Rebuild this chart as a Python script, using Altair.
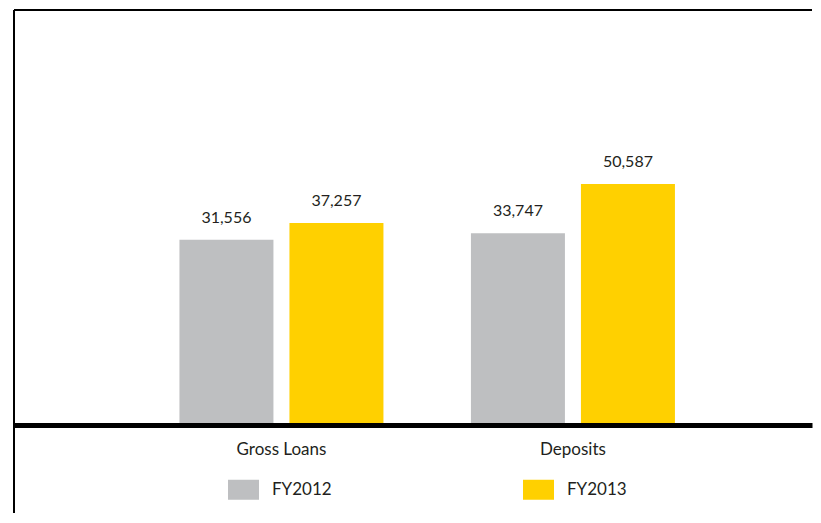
import altair as alt
import pandas as pd

categories = ["Gross Loans", "Deposits"]
series = ["FY2012", "FY2013"]
fy2012 = [31556, 33747]
fy2013 = [37257, 50587]
colors = ["#bebfc1", "#ffd000"]

rows = []
for i, c in enumerate(categories):
    rows.append({"category": c, "series": series[0], "value": fy2012[i]})
    rows.append({"category": c, "series": series[1], "value": fy2013[i]})
df = pd.DataFrame(rows)

W, H = 798, 413
Y0, Y1 = -31233, 110205
TXT = "#231f20"
FONT = "Lato"

x_enc = alt.X(
    "category:N",
    sort=categories,
    scale=alt.Scale(paddingInner=0, paddingOuter=0.3688, align=0.566),
    axis=alt.Axis(
        title=None, ticks=False, tickSize=0, grid=False, labelAngle=0,
        domainColor="black", domainWidth=5, offset=2,
        labelFont=FONT, labelFontSize=17, labelColor=TXT,
        labelPadding=29, labelBaseline="alphabetic",
    ),
)
xo_enc = alt.XOffset("series:N", sort=series,
                     scale=alt.Scale(paddingInner=0.1455, paddingOuter=0.3977))
y_enc = alt.Y("value:Q", scale=alt.Scale(domain=[Y0, Y1], zero=False, nice=False), axis=None)

base = alt.Chart(df)

bars = base.mark_bar().encode(
    x=x_enc,
    xOffset=xo_enc,
    y=y_enc,
    y2=alt.datum(Y0),
    color=alt.Color(
        "series:N",
        sort=series,
        scale=alt.Scale(domain=series, range=colors),
        legend=alt.Legend(
            title=None, orient="none", legendX=214, legendY=464, direction="horizontal",
            symbolType="M-1,-0.645H1V0.645H-1Z", symbolSize=961, symbolStrokeWidth=0,
            symbolOpacity=1, labelFont=FONT, labelFontSize=17, labelColor=TXT,
            labelOffset=13, columnPadding=191, padding=0,
        ),
    ),
)

labels = base.mark_text(dy=-17, baseline="alphabetic", fontSize=16, font=FONT, color=TXT).encode(
    x=x_enc,
    xOffset=xo_enc,
    y=y_enc,
    text=alt.Text("value:Q", format=","),
)

frame_df = pd.DataFrame({"k": [0]})
left_line = alt.Chart(frame_df).mark_rule(color="black", strokeWidth=2).encode(
    x=alt.value(0), y=alt.value(0), y2=alt.value(503)
)
top_line = alt.Chart(frame_df).mark_rule(color="black", strokeWidth=2).encode(
    x=alt.value(0), x2=alt.value(W), y=alt.value(0)
)

chart = (
    alt.layer(bars, labels, left_line, top_line)
    .properties(width=W, height=H, padding={"left": 5, "top": 1, "right": 0, "bottom": 0}, background="white")
    .configure_view(strokeWidth=0)
)

chart.save("out.html", embed_options={"renderer": "svg", "actions": False})
